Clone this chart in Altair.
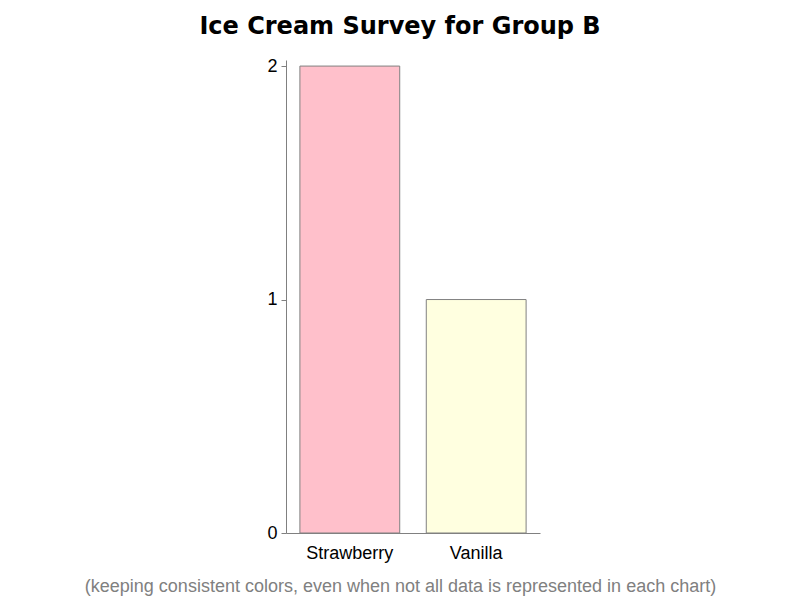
import altair as alt
import pandas as pd

flavors = ["Strawberry", "Vanilla"]
counts = [2, 1]
colors = ["#FFC0CB", "#FFFFE0"]
y_ticks = [0, 1, 2]

df = pd.DataFrame({"flavor": flavors, "count": counts})

chart = alt.Chart(df).mark_bar(stroke="#808080", strokeWidth=1).encode(
    x=alt.X("flavor:N", sort=flavors,
            scale=alt.Scale(paddingInner=0.21, paddingOuter=0.11),
            axis=alt.Axis(title="(keeping consistent colors, even when not all data is represented in each chart)",
                          titleX=114, titleY=53, titleBaseline="middle", titleColor="#808080",
                          titleFont="Liberation Sans", titleFontSize=18, titleFontWeight="normal",
                          labelAngle=0, labelFont="Liberation Sans", labelFontSize=18, labelColor="black",
                          labelPadding=11, ticks=False, domainColor="#808080", grid=False)),
    y=alt.Y("count:Q", scale=alt.Scale(domain=[0, 2.026], nice=False),
            axis=alt.Axis(title=None, tickCount=3, tickMinStep=1, format="d", tickSize=5,
                          tickColor="#808080", domainColor="#808080", labelFont="Liberation Sans",
                          labelFontSize=18, labelColor="black", grid=False, labelPadding=4,
                          labelOverlap=False, labelFlush=False)),
    color=alt.Color("flavor:N", scale=alt.Scale(domain=flavors, range=colors), legend=None),
).properties(
    width=254,
    height=473,
    title=alt.TitleParams("Ice Cream Survey for Group B", font="DejaVu Sans", fontSize=24,
                          fontWeight="bold", color="black", anchor="middle", dx=-13, offset=18),
    autosize=alt.AutoSizeParams(type="none"),
    padding={"left": 278, "top": 52, "right": 250, "bottom": 75},
).configure_view(stroke=None)

chart.save("out.html", embed_options={"renderer": "svg", "actions": False})
